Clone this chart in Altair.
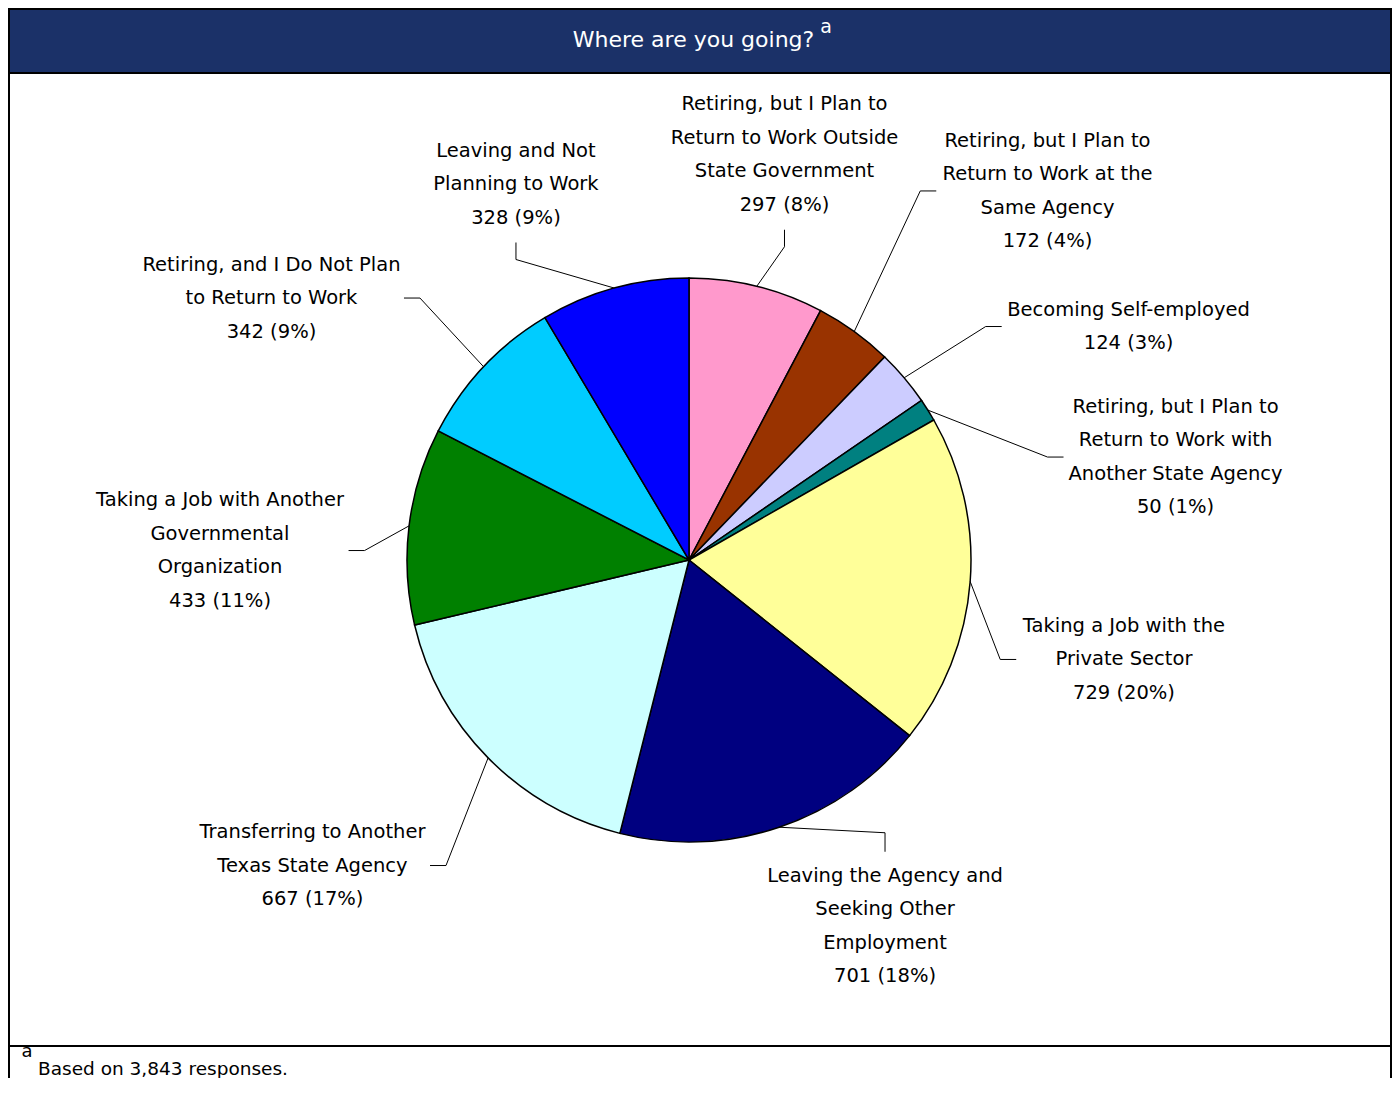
import math
import altair as alt
import pandas as pd

# ---------------- data ----------------
label_lines = [
    ["Retiring, but I Plan to", "Return to Work Outside", "State Government"],
    ["Retiring, but I Plan to", "Return to Work at the", "Same Agency"],
    ["Becoming Self-employed"],
    ["Retiring, but I Plan to", "Return to Work with", "Another State Agency"],
    ["Taking a Job with the", "Private Sector"],
    ["Leaving the Agency and", "Seeking Other", "Employment"],
    ["Transferring to Another", "Texas State Agency"],
    ["Taking a Job with Another", "Governmental", "Organization"],
    ["Retiring, and I Do Not Plan", "to Return to Work"],
    ["Leaving and Not", "Planning to Work"],
]
counts = [297, 172, 124, 50, 729, 701, 667, 433, 342, 328]
percents = [8, 4, 3, 1, 20, 18, 17, 11, 9, 9]
colors = ["#FF99CC", "#993300", "#CCCCFF", "#008080", "#FFFF99",
          "#000080", "#CCFFFF", "#008000", "#00CCFF", "#0000FF"]
title_text = "Where are you going?"
footnote_text = "Based on 3,843 responses."
footnote_mark = "a"

# ---------------- layout ----------------
W, H = 1384, 1070
CX, CY, R = 681, 552, 282
FONT = "DejaVu Sans"
FS = 19.5
LH = 33.5
# label placement relative to each slice's mid-angle (degrees turn, px distance)
label_turn = [-0.66, 8.29, 12.28, 20.16, 8.50, -9.53, 5.51, -5.80, -11.15, -9.35]
label_dist = [416.6, 514.5, 497.7, 497.3, 446.2, 415.2, 484.9, 469.1, 492.9, 413.9]
label_side = ["bottom", "left", "left", "left", "left", "top",
              "right", "right", "right", "bottom"]

# DejaVu Sans advance widths (units per 2048 em) for label width estimates
ADV = {" ": 651, "(": 799, ")": 799, "%": 1946, ",": 651, "-": 739, ".": 651,
       "?": 1087, "A": 1401, "B": 1405, "D": 1577, "E": 1294, "G": 1577,
       "I": 604, "J": 604, "L": 1141, "N": 1532, "O": 1612, "P": 1235,
       "R": 1423, "S": 1300, "T": 1253, "W": 2025, "a": 1255, "b": 1300,
       "c": 1126, "d": 1300, "e": 1260, "f": 721, "g": 1300, "h": 1298,
       "i": 569, "j": 569, "k": 1186, "l": 569, "m": 1995, "n": 1298,
       "o": 1253, "p": 1300, "r": 842, "s": 1067, "t": 803, "u": 1298,
       "v": 1212, "w": 1675, "x": 1212, "y": 1212}


def text_width(s, size):
    return sum(ADV.get(ch, 1303 if ch.isdigit() else 1200) for ch in s) / 2048 * size


total = sum(counts)
slices, labels, segs = [], [], []
cum = 0
for i, c in enumerate(counts):
    mid = (cum + c / 2) / total * 360.0
    cum += c
    lines = label_lines[i] + [f"{c} ({percents[i]}%)"]
    name = " ".join(label_lines[i])
    slices.append({"idx": i, "category": name, "count": c})

    a = math.radians(mid)
    rx, ry = CX + R * math.sin(a), CY - R * math.cos(a)
    b = math.radians(mid + label_turn[i])
    lx = CX + label_dist[i] * math.sin(b)
    ly = CY - label_dist[i] * math.cos(b)

    n = len(lines)
    hw = max(text_width(s, FS) for s in lines) / 2
    first, last = ly - (n - 1) / 2 * LH, ly + (n - 1) / 2 * LH
    # Vega anchors a multi-line block at its first line
    labels.append({"x": lx, "y": first, "text": "\n".join(lines)})

    side = label_side[i]
    if side == "left":
        ax, ay = lx - hw - 5, ly
        ex, ey = ax - 16, ay
    elif side == "right":
        ax, ay = lx + hw + 3, ly
        ex, ey = ax + 16, ay
    elif side == "bottom":
        ax, ay = lx, last + 25
        ex, ey = ax, ay + 17
    else:
        ax, ay = lx, first - 24
        ex, ey = ax, ay - 19
    segs.append({"x": rx, "y": ry, "x2": ex, "y2": ey})
    segs.append({"x": ex, "y": ey, "x2": ax, "y2": ay})

slice_df = pd.DataFrame(slices)
label_df = pd.DataFrame(labels)
seg_df = pd.DataFrame(segs)
one = pd.DataFrame({"k": [0]})
cats = [s["category"] for s in slices]

pie = alt.Chart(slice_df).mark_arc(
    outerRadius=R, stroke="black", strokeWidth=1.5
).encode(
    theta=alt.Theta("count:Q", stack=True),
    order=alt.Order("idx:Q"),
    color=alt.Color("category:N", scale=alt.Scale(domain=cats, range=colors), legend=None),
    x=alt.value(CX),
    y=alt.value(CY),
)

leaders = alt.Chart(seg_df).mark_rule(color="black", strokeWidth=1).encode(
    x=alt.X("x:Q", scale=None, axis=None),
    y=alt.Y("y:Q", scale=None, axis=None),
    x2="x2:Q",
    y2="y2:Q",
)

texts = alt.Chart(label_df).mark_text(
    font=FONT, fontSize=FS, lineBreak="\n", lineHeight=LH,
    align="center", baseline="middle", color="black"
).encode(
    x=alt.X("x:Q", scale=None, axis=None),
    y=alt.Y("y:Q", scale=None, axis=None),
    text="text:N",
)

header = alt.Chart(one).mark_rect(
    fill="#1B3168", stroke="black", strokeWidth=2
).encode(x=alt.value(1), x2=alt.value(W - 1), y=alt.value(1), y2=alt.value(65))

title = alt.Chart(one).mark_text(
    font=FONT, fontSize=22, color="white", align="center", baseline="middle"
).encode(x=alt.value(685.5), y=alt.value(32), text=alt.value(title_text))

title_sup = alt.Chart(one).mark_text(
    font=FONT, fontSize=19, color="white", align="center", baseline="middle"
).encode(x=alt.value(818), y=alt.value(19), text=alt.value(footnote_mark))

frame_left = alt.Chart(one).mark_rule(color="black", strokeWidth=2).encode(
    x=alt.value(1), y=alt.value(0), y2=alt.value(H))
frame_right = alt.Chart(one).mark_rule(color="black", strokeWidth=2).encode(
    x=alt.value(W - 1), y=alt.value(0), y2=alt.value(H))
separator = alt.Chart(one).mark_rule(color="black", strokeWidth=2).encode(
    x=alt.value(0), x2=alt.value(W), y=alt.value(1038))

foot_sup = alt.Chart(one).mark_text(
    font=FONT, fontSize=18, color="black", align="center", baseline="middle"
).encode(x=alt.value(19), y=alt.value(1044), text=alt.value(footnote_mark))

foot = alt.Chart(one).mark_text(
    font=FONT, fontSize=18.5, color="black", align="left", baseline="alphabetic"
).encode(x=alt.value(30), y=alt.value(1067), text=alt.value(footnote_text))

chart = alt.layer(
    header, title, title_sup, pie, leaders, texts,
    frame_left, frame_right, separator, foot_sup, foot
).properties(
    width=W, height=H, padding=0,
    autosize=alt.AutoSizeParams(type="none"),
    background="white",
).configure_view(stroke=None)

chart.save("out.html", embed_options={"renderer": "svg", "actions": False})
